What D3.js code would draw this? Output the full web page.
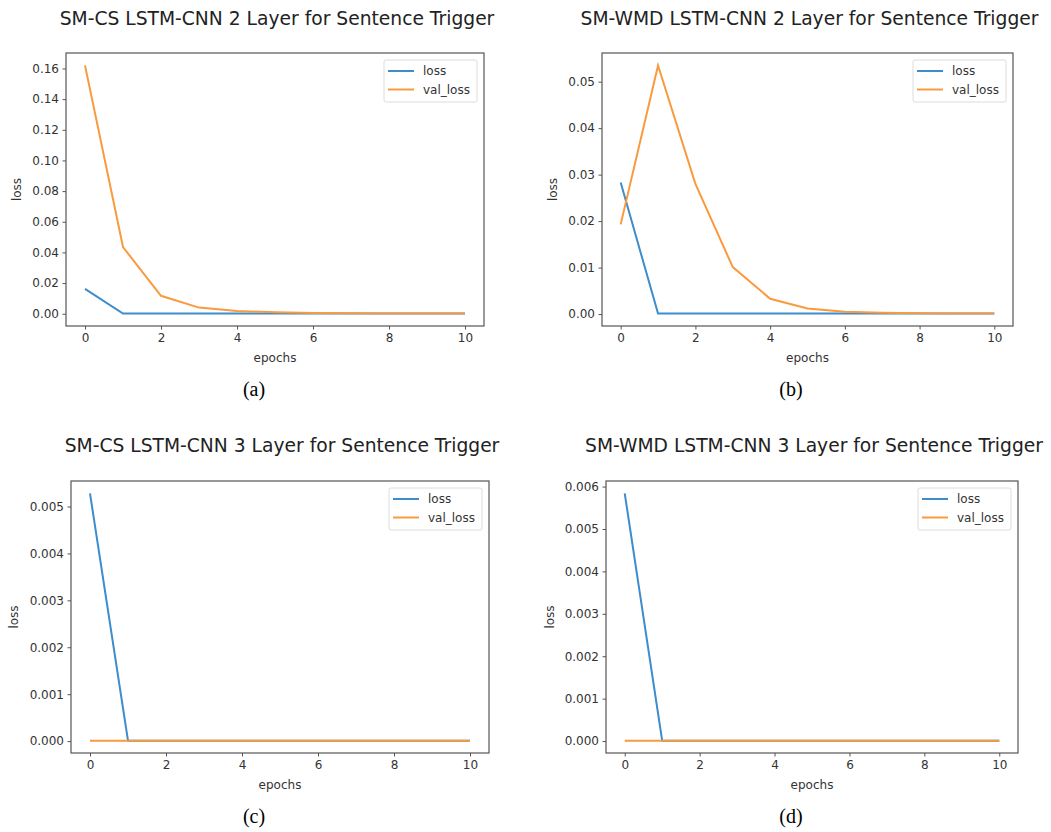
<!DOCTYPE html>
<html>
<head>
<meta charset="utf-8">
<script src="https://cdn.jsdelivr.net/npm/d3@7"></script>
<style>
  body { margin: 0; background: #fff; }
  svg { display: block; }
  text { font-family: "DejaVu Sans", sans-serif; }
</style>
</head>
<body>
<svg id="chart" width="1051" height="832"></svg>
<script>
// epochs shared by every panel
const epochs = [0, 1, 2, 3, 4, 5, 6, 7, 8, 9, 10];

// (a) SM-CS 2 layer
const lossA = [0.0162, 0.0001, 0.0001, 0.0001, 0.0001, 0.0001, 0.0001, 0.0001, 0.0001, 0.0001, 0.0001];
const valLossA = [0.162, 0.0435, 0.0117, 0.0040, 0.0018, 0.0009, 0.0005, 0.0003, 0.0002, 0.0001, 0.0001];
// (b) SM-WMD 2 layer
const lossB = [0.0283, 0.0001, 0.0001, 0.0001, 0.0001, 0.0001, 0.0001, 0.0001, 0.0001, 0.0001, 0.0001];
const valLossB = [0.0193, 0.0535, 0.0280, 0.0101, 0.0033, 0.0012, 0.0005, 0.0003, 0.0002, 0.0001, 0.0001];
// (c) SM-CS 3 layer
const lossC = [0.00528, 0.00001, 0.00001, 0.00001, 0.00001, 0.00001, 0.00001, 0.00001, 0.00001, 0.00001, 0.00001];
const valLossC = [0.00001, 0.00001, 0.00001, 0.00001, 0.00001, 0.00001, 0.00001, 0.00001, 0.00001, 0.00001, 0.00001];
// (d) SM-WMD 3 layer
const lossD = [0.00584, 0.00001, 0.00001, 0.00001, 0.00001, 0.00001, 0.00001, 0.00001, 0.00001, 0.00001, 0.00001];
const valLossD = [0.00001, 0.00001, 0.00001, 0.00001, 0.00001, 0.00001, 0.00001, 0.00001, 0.00001, 0.00001, 0.00001];

const titles = [
  "SM-CS LSTM-CNN 2 Layer for Sentence Trigger",
  "SM-WMD LSTM-CNN 2 Layer for Sentence Trigger",
  "SM-CS LSTM-CNN 3 Layer for Sentence Trigger",
  "SM-WMD LSTM-CNN 3 Layer for Sentence Trigger"
];
const captions = ["(a)", "(b)", "(c)", "(d)"];
const xTicks = [0, 2, 4, 6, 8, 10];
const yTicksA = [0, 0.02, 0.04, 0.06, 0.08, 0.10, 0.12, 0.14, 0.16];
const yTicksB = [0, 0.01, 0.02, 0.03, 0.04, 0.05];
const yTicksC = [0, 0.001, 0.002, 0.003, 0.004, 0.005];
const yTicksD = [0, 0.001, 0.002, 0.003, 0.004, 0.005, 0.006];
const seriesNames = ["loss", "val_loss"];

const colours = { loss: "#3d8ccc", val_loss: "#f99a3e", spine: "#555", text: "#333" };

// layout of each panel (pixel box of the axes frame)
const panels = [
  { box: [66, 53, 484, 326], loss: lossA, val: valLossA, ticks: yTicksA, fmt: ".2f", title: titles[0], cap: captions[0], titleY: 25, capX: 254, capY: 396, ylabX: 17 },
  { box: [602, 53, 1013, 326], loss: lossB, val: valLossB, ticks: yTicksB, fmt: ".2f", title: titles[1], cap: captions[1], titleY: 25, capX: 791, capY: 396, ylabX: 553 },
  { box: [71, 481, 489, 753], loss: lossC, val: valLossC, ticks: yTicksC, fmt: ".3f", title: titles[2], cap: captions[2], titleY: 452, capX: 254, capY: 823, ylabX: 14 },
  { box: [606, 481, 1018, 753], loss: lossD, val: valLossD, ticks: yTicksD, fmt: ".3f", title: titles[3], cap: captions[3], titleY: 452, capX: 791, capY: 823, ylabX: 550 }
];

const svg = d3.select("#chart");

panels.forEach(function (p) {
  let [x0, y0, x1, y1] = p.box;
  let allVals = p.loss.concat(p.val);
  let yMin = d3.min(allVals), yMax = d3.max(allVals);
  let pad = (yMax - yMin) * 0.05;

  let xScale = d3.scaleLinear().domain([-0.5, 10.5]).range([x0, x1]);
  let yScale = d3.scaleLinear().domain([yMin - pad, yMax + pad]).range([y1, y0]);

  let g = svg.append("g");

  // title, centred over the axes
  g.append("text")
    .attr("x", (x0 + x1) / 2 + 2)
    .attr("y", p.titleY)
    .attr("text-anchor", "middle")
    .style("font-size", "18.7px")
    .style("fill", "#222")
    .text(p.title);

  // axes
  let xAxis = d3.axisBottom(xScale).tickValues(xTicks).tickSize(3.5).tickPadding(3.5).tickFormat(d3.format("d"));
  let yAxis = d3.axisLeft(yScale).tickValues(p.ticks).tickSize(3.5).tickPadding(3.5).tickFormat(d3.format(p.fmt));

  let gx = g.append("g").attr("transform", `translate(0,${y1})`).call(xAxis);
  let gy = g.append("g").attr("transform", `translate(${x0},0)`).call(yAxis);
  [gx, gy].forEach(function (a) {
    a.select(".domain").remove();
    a.selectAll("line").attr("stroke", colours.spine);
    a.selectAll("text")
      .style("font-family", "'DejaVu Sans', sans-serif")
      .style("font-size", "12px")
      .style("fill", colours.text);
  });

  // lines
  let line = d3.line()
    .x((d, i) => xScale(epochs[i]))
    .y(d => yScale(d));

  g.append("path").datum(p.loss)
    .attr("d", line)
    .attr("fill", "none")
    .attr("stroke", colours.loss)
    .attr("stroke-width", 2);
  g.append("path").datum(p.val)
    .attr("d", line)
    .attr("fill", "none")
    .attr("stroke", colours.val_loss)
    .attr("stroke-width", 2);

  // frame
  g.append("rect")
    .attr("x", x0).attr("y", y0)
    .attr("width", x1 - x0).attr("height", y1 - y0)
    .attr("fill", "none")
    .attr("stroke", colours.spine)
    .attr("stroke-width", 1.2);

  // axis labels
  g.append("text")
    .attr("x", (x0 + x1) / 2)
    .attr("y", y1 + 36)
    .attr("text-anchor", "middle")
    .style("font-size", "12px")
    .style("fill", colours.text)
    .text("epochs");
  g.append("text")
    .attr("transform", `translate(${p.ylabX + 4},${(y0 + y1) / 2}) rotate(-90)`)
    .attr("text-anchor", "middle")
    .style("font-size", "12px")
    .style("fill", colours.text)
    .text("loss");

  // legend
  let lg = g.append("g").attr("transform", `translate(${x1 - 100},${y0 + 7})`);
  lg.append("rect")
    .attr("width", 93).attr("height", 42).attr("rx", 2)
    .attr("fill", "#fff").attr("stroke", "#dcdcdc");
  seriesNames.forEach(function (name, i) {
    let yy = 11 + i * 18.5;
    lg.append("line")
      .attr("x1", 4).attr("x2", 30).attr("y1", yy).attr("y2", yy)
      .attr("stroke", colours[name]).attr("stroke-width", 2);
    lg.append("text")
      .attr("x", 39).attr("y", yy + 4)
      .style("font-size", "12px")
      .style("fill", colours.text)
      .text(name);
  });

  // caption below the panel
  g.append("text")
    .attr("x", p.capX)
    .attr("y", p.capY)
    .attr("text-anchor", "middle")
    .style("font-family", "'Liberation Serif', 'Times New Roman', serif")
    .style("font-size", "20px")
    .style("fill", "#000")
    .text(p.cap);
});
</script>
</body>
</html>
